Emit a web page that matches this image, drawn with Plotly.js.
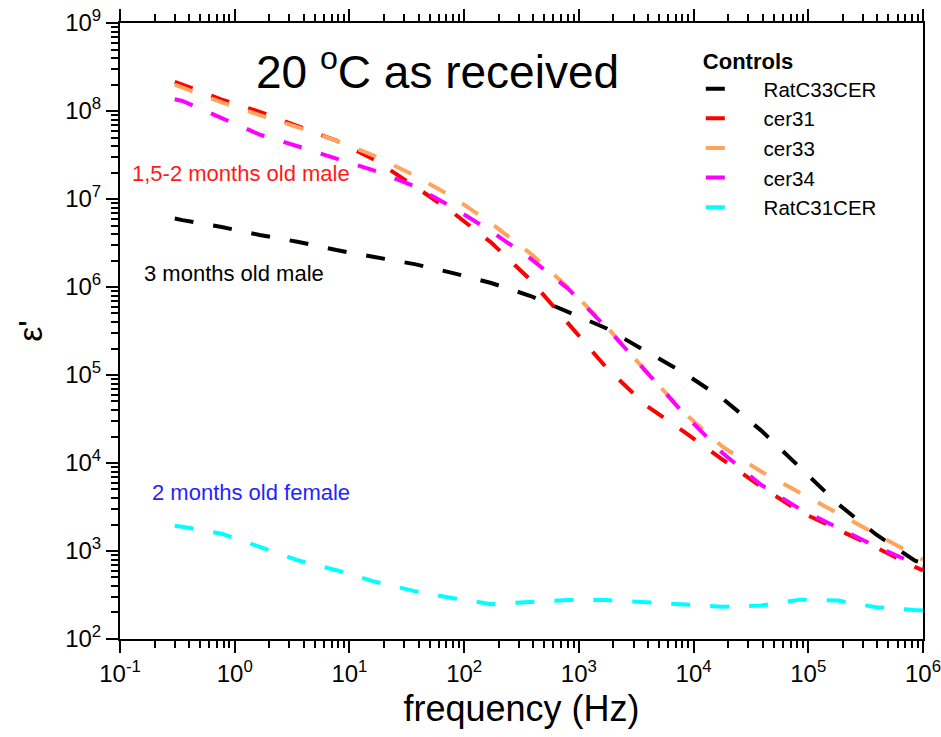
<!DOCTYPE html>
<html>
<head>
<meta charset="utf-8">
<script src="https://cdn.plot.ly/plotly-3.0.1.min.js"></script>
<style>html,body{margin:0;padding:0;background:#fff;}#chart{width:941px;height:737px;}</style>
</head>
<body>
<div id="chart"></div>
<script>
// Frequency (Hz)
const freq = [0.3, 0.35, 0.77, 1.65, 3.6, 7.7, 16.5, 37, 80, 172, 380, 810, 1730, 3850, 8300, 17900, 38700, 84500, 183000, 393000, 851000, 1000000];

// Series names
const seriesNames = ["RatC33CER", "cer31", "cer33", "cer34", "RatC31CER"];

// ε' values
const ratC33CER = [6.0e6, 5.75e6, 4.8e6, 3.9e6, 3.25e6, 2.63e6, 2.19e6, 1.82e6, 1.44e6, 1.11e6, 7.9e5, 5.25e5, 3.4e5, 1.86e5, 1.05e5, 5.4e4, 2.35e4, 8.9e3, 3.4e3, 1.53e3, 776, 725];
const cer31 = [2.15e8, 2.0e8, 1.35e8, 9.8e7, 6.7e7, 4.6e7, 2.8e7, 1.4e7, 7.0e6, 3.2e6, 1.2e6, 3.9e5, 1.22e5, 4.5e4, 2.26e4, 1.09e4, 5.4e3, 2.8e3, 1.75e3, 1.09e3, 660, 600];
const cer33 = [2.0e8, 1.85e8, 1.25e8, 9.0e7, 6.5e7, 4.6e7, 3.1e7, 1.85e7, 1.05e7, 5.3e6, 2.4e6, 9.8e5, 3.6e5, 1.1e5, 3.7e4, 1.53e4, 8.0e3, 4.6e3, 2.65e3, 1.55e3, 885, 795];
const cer34 = [1.36e8, 1.3e8, 8.3e7, 5.4e7, 3.95e7, 2.9e7, 2.1e7, 1.4e7, 8.0e6, 4.3e6, 2.1e6, 9.5e5, 3.5e5, 1.1e5, 3.6e4, 1.3e4, 5.65e3, 3.0e3, 1.84e3, 1.12e3, 718, 660];
const ratC31CER = [1.93e3, 1.89e3, 1.57e3, 1.1e3, 780, 605, 449, 350, 291, 249, 262, 277, 277, 259, 246, 233, 240, 280, 273, 229, 213, 211];

// Tick values and labels
const xTickVals = [0.1, 1, 10, 100, 1000, 10000, 100000, 1000000];
const xTickText = ["10<sup>-1</sup>", "10<sup>0</sup>", "10<sup>1</sup>", "10<sup>2</sup>", "10<sup>3</sup>", "10<sup>4</sup>", "10<sup>5</sup>", "10<sup>6</sup>"];
const yTickVals = [1e2, 1e3, 1e4, 1e5, 1e6, 1e7, 1e8, 1e9];
const yTickText = ["10<sup>2</sup>", "10<sup>3</sup>", "10<sup>4</sup>", "10<sup>5</sup>", "10<sup>6</sup>", "10<sup>7</sup>", "10<sup>8</sup>", "10<sup>9</sup>"];

const seriesValues = [ratC33CER, cer31, cer33, cer34, ratC31CER];
const colors = ["#000000", "#ff0000", "#ffa45c", "#ff00ff", "#00ffff"];

const pad = "\u00a0\u00a0\u00a0\u00a0";
const traces = seriesNames.map((n, i) => ({
  x: freq,
  y: seriesValues[i],
  name: pad + n,
  type: "scatter",
  mode: "lines",
  line: {color: colors[i], width: 4, dash: "19px,20px"}
}));

const FONT = "Arial, 'Liberation Sans', sans-serif";

const axisCommon = {
  type: "log",
  tickmode: "array",
  showgrid: false,
  zeroline: false,
  showline: true,
  linecolor: "#000",
  linewidth: 2,
  ticks: "outside",
  ticklen: 12,
  tickwidth: 2,
  tickcolor: "#000",
  ticklabeloverflow: "allow",
  tickfont: {family: FONT, size: 24, color: "#000"},
  minor: {ticks: "outside", ticklen: 7, tickwidth: 2, tickcolor: "#000", dtick: "D1", showgrid: false}
};

const layout = {
  width: 941,
  height: 737,
  margin: {l: 120, r: 18, t: 23, b: 98},
  paper_bgcolor: "#fff",
  plot_bgcolor: "#fff",
  font: {family: FONT, color: "#000"},
  showlegend: true,
  xaxis: Object.assign({}, axisCommon, {
    range: [-1.0002, 6.0002],
    tickvals: xTickVals,
    ticktext: xTickText,
    mirror: "ticks",
    title: {text: "frequency (Hz)", font: {family: FONT, size: 36, color: "#000"}, standoff: 10}
  }),
  yaxis: Object.assign({}, axisCommon, {
    range: [1.9998, 9.0002],
    tickvals: yTickVals,
    ticktext: yTickText,
    mirror: true,
    title: {text: "ε'", font: {family: FONT, size: 34, color: "#000"}, standoff: 12}
  }),
  legend: {
    x: 0.7233, y: 0.972, xanchor: "left", yanchor: "top",
    bgcolor: "rgba(0,0,0,0)",
    borderwidth: 0,
    font: {family: FONT, size: 20.5, color: "#000"},
    title: {text: "<b>Controls</b>", font: {family: FONT, size: 22, color: "#000"}},
    itemwidth: 30
  },
  annotations: [
    {text: "20 <sup>o</sup>C as received", xref: "paper", yref: "paper", x: 0.3954, y: 0.926,
     xanchor: "center", yanchor: "middle", showarrow: false, font: {family: FONT, size: 46, color: "#000"}},
    {text: "1,5-2 months old male", xref: "paper", yref: "paper", x: 0.0125, y: 0.755,
     xanchor: "left", yanchor: "middle", showarrow: false, font: {family: FONT, size: 22, color: "#ff1a1a"}},
    {text: "3 months old male", xref: "paper", yref: "paper", x: 0.027, y: 0.593,
     xanchor: "left", yanchor: "middle", showarrow: false, font: {family: FONT, size: 22, color: "#000"}},
    {text: "2 months old female", xref: "paper", yref: "paper", x: 0.037, y: 0.238,
     xanchor: "left", yanchor: "middle", showarrow: false, font: {family: FONT, size: 22, color: "#2424ff"}}
  ]
};

Plotly.newPlot("chart", traces, layout, {displayModeBar: false, staticPlot: true});
</script>
</body>
</html>
